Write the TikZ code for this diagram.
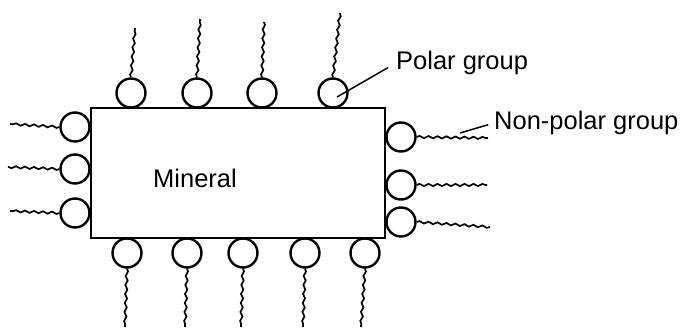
\documentclass[tikz,border=0pt]{standalone}
\usepackage{fontspec}
\setmainfont{Liberation Sans}
\usetikzlibrary{decorations.pathmorphing}
\begin{document}
\begin{tikzpicture}[x=1pt,y=-1pt,
  head/.style={circle,draw,line width=2.4pt,minimum size=29pt,inner sep=0pt},
  tail/.style={line width=1.7pt,decorate,decoration={snake,amplitude=1.1pt,segment length=9pt}},
  lbl/.style={font=\fontsize{25.5}{28}\selectfont,inner sep=0pt},
  leader/.style={line width=1.5pt}]
\useasboundingbox (0,0) rectangle (683,327);
% mineral block
\node[draw,line width=2.8pt,minimum width=294pt,minimum height=130pt,inner sep=0pt] (block) at (238,173) {};
\node[lbl] (mlabel) at (195,178) {Mineral};
% top heads
\node[head] (t1) at (131,93) {};
\node[head] (t2) at (197,93) {};
\node[head] (t3) at (262,93) {};
\node[head] (t4) at (333,93) {};
\coordinate (t1e) at (135,28);
\coordinate (t2e) at (200,19);
\coordinate (t3e) at (264,22);
\coordinate (t4e) at (340,13);
\foreach \n in {t1,t2,t3,t4} \draw[tail] (\n.north) -- (\n e);
% left heads
\node[head] (l1) at (75,127) {};
\node[head] (l2) at (75,169) {};
\node[head] (l3) at (75,213) {};
\coordinate (l1e) at (10,124);
\coordinate (l2e) at (8,167);
\coordinate (l3e) at (10,211);
\foreach \n in {l1,l2,l3} \draw[tail] (\n.west) -- (\n e);
% right heads
\node[head] (r1) at (401,137) {};
\node[head] (r2) at (401,185) {};
\node[head] (r3) at (401,222) {};
\coordinate (r1e) at (488,138);
\coordinate (r2e) at (487,185);
\coordinate (r3e) at (490,227);
\foreach \n in {r1,r2,r3} \draw[tail] (\n.east) -- (\n e);
% bottom heads
\node[head] (b1) at (127,253) {};
\node[head] (b2) at (187,253) {};
\node[head] (b3) at (243,253) {};
\node[head] (b4) at (305,253) {};
\node[head] (b5) at (365,253) {};
\coordinate (b1e) at (125,327);
\coordinate (b2e) at (185,327);
\coordinate (b3e) at (241,327);
\coordinate (b4e) at (303,327);
\coordinate (b5e) at (361,327);
\foreach \n in {b1,b2,b3,b4,b5} \draw[tail] (\n.south) -- (\n e);
% labels with leader lines
\node[lbl,anchor=west] (polar) at (396,63) {Polar group};
\node[lbl,anchor=west] (nonpolar) at (494,123) {Non-polar group};
\coordinate (pp) at (337,97);
\coordinate (np) at (460,133);
\draw[leader,shorten >=9pt] (pp) -- (polar.west);
\draw[leader,shorten >=6pt] (np) -- (nonpolar.west);
\end{tikzpicture}
\end{document}
